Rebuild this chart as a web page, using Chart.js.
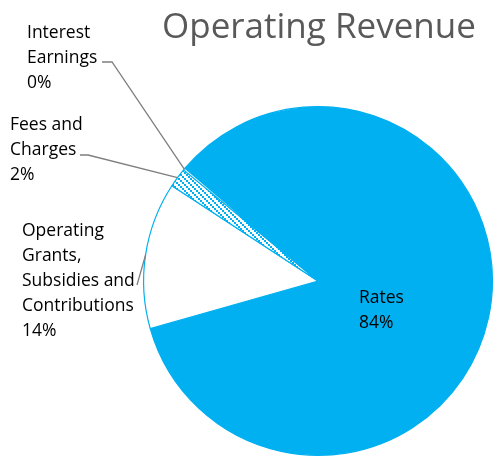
<!DOCTYPE html>
<html>
<head>
<meta charset="utf-8">
<script src="https://cdn.jsdelivr.net/npm/chart.js@4/dist/chart.umd.min.js"></script>
<style>
  html, body { margin: 0; padding: 0; background: #fff; }
  #wrap { width: 499px; height: 457px; }
</style>
</head>
<body>
<div id="wrap"><canvas id="pie" width="499" height="457"></canvas></div>
<script>
// datos del gráfico
const chartTitle = 'Operating Revenue';
const categories = ['Rates', 'Operating Grants, Subsidies and Contributions', 'Fees and Charges', 'Interest Earnings'];
const values = [84.4, 13.6, 1.8, 0.2]; // porcentaje de cada fuente
// cómo se parte cada etiqueta en líneas (igual que en la imagen)
const labelLines = [
    ['Rates'],
    ['Operating', 'Grants,', 'Subsidies and', 'Contributions'],
    ['Fees and', 'Charges'],
    ['Interest', 'Earnings']
];

const blue = '#00B0F0';
const fontFamily = '"Open Sans", "Noto Sans", sans-serif';

// trama de puntos diagonales para "Fees and Charges"
function makePattern() {
    const c = document.createElement('canvas');
    c.width = 6;
    c.height = 6;
    const g = c.getContext('2d');
    g.fillStyle = '#fff';
    g.fillRect(0, 0, 6, 6);
    g.fillStyle = blue;
    g.fillRect(0, 0, 2, 2);
    g.fillRect(2, 2, 2, 2);
    g.fillRect(4, 4, 2, 2);
    return g.createPattern(c, 'repeat');
}

// posición del texto de cada etiqueta y punto donde empieza la línea guía
const labelPlaces = [
    { x: 359, y: 303, inside: true },
    { x: 22, y: 236, from: [137, 285], knee: null },
    { x: 10, y: 130, from: [80, 155], knee: [88, 155] },
    { x: 27, y: 38, from: [102, 62], knee: [112, 62] }
];

const labelsPlugin = {
    id: 'outsideLabels',
    afterDraw(chart) {
        const ctx = chart.ctx;
        const meta = chart.getDatasetMeta(0);
        ctx.save();

        // título
        ctx.fillStyle = '#595959';
        ctx.font = '35px ' + fontFamily;
        ctx.textBaseline = 'alphabetic';
        ctx.textAlign = 'left';
        ctx.fillText(chartTitle, 162, 38);

        // líneas guía
        ctx.strokeStyle = '#7F7F7F';
        ctx.lineWidth = 1.3;
        for (let i = 0; i < labelPlaces.length; i++) {
            const p = labelPlaces[i];
            if (p.inside) continue;
            const arc = meta.data[i].getProps(['x', 'y', 'startAngle', 'endAngle', 'outerRadius'], true);
            const mid = (arc.startAngle + arc.endAngle) / 2;
            const ex = arc.x + Math.cos(mid) * arc.outerRadius;
            const ey = arc.y + Math.sin(mid) * arc.outerRadius;
            ctx.beginPath();
            ctx.moveTo(p.from[0], p.from[1]);
            if (p.knee) ctx.lineTo(p.knee[0], p.knee[1]);
            ctx.lineTo(ex, ey);
            ctx.stroke();
        }

        // textos
        ctx.fillStyle = '#000000';
        ctx.font = '17.5px ' + fontFamily;
        for (let i = 0; i < labelPlaces.length; i++) {
            const p = labelPlaces[i];
            const lines = labelLines[i].concat([Math.round(values[i]) + '%']);
            lines.forEach((t, k) => ctx.fillText(t, p.x, p.y + k * 25));
        }
        ctx.restore();
    }
};

const ctx = document.getElementById('pie').getContext('2d');
const chart = new Chart(ctx, {
    type: 'pie',
    data: {
        labels: categories,
        datasets: [{
            data: values,
            backgroundColor: [blue, '#FFFFFF', makePattern(), '#FFFFFF'],
            borderColor: blue,
            borderWidth: 1.2
        }]
    },
    options: {
        responsive: false,
        animation: false,
        rotation: -49.7,
        layout: { padding: { left: 143, top: 106, right: 6, bottom: 1 } },
        plugins: {
            legend: { display: false },
            tooltip: { enabled: false }
        }
    },
    plugins: [labelsPlugin]
});
</script>
</body>
</html>
